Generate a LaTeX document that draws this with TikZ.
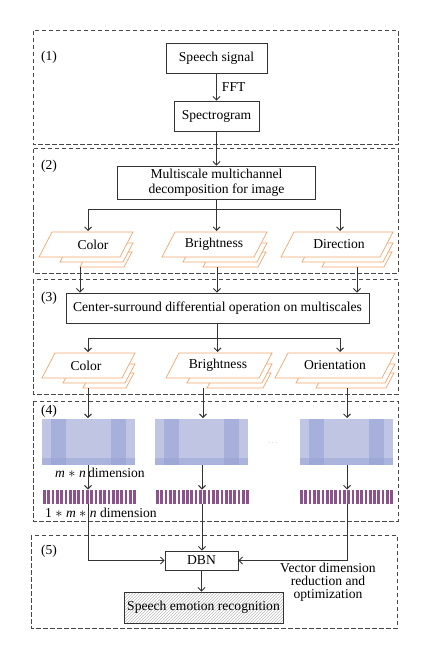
\documentclass[tikz,border=0pt]{standalone}
\usepackage{fontspec}
\setmainfont{Liberation Serif}
\usetikzlibrary{arrows.meta,patterns}
\definecolor{linec}{HTML}{333333}
\definecolor{dashc}{HTML}{484848}
\definecolor{orangec}{HTML}{F2A56A}
\definecolor{matbase}{RGB}{192,197,228}
\definecolor{matband}{RGB}{150,162,212}
\definecolor{barc}{RGB}{140,82,140}
\newcommand{\myfs}{\fontsize{13.6}{15.5}\selectfont}
\newcommand{\stk}[3]{%
 \filldraw[para] ({#1+41},{#2+35}) -- ({#1+#3+4},{#2+35}) -- ({#1+#3+12},{#2+20}) -- ({#1+49},{#2+20}) -- cycle;
 \filldraw[para] ({#1+21},{#2+30}) -- ({#1+#3+3},{#2+30}) -- ({#1+#3+13},{#2+11}) -- ({#1+31},{#2+11}) -- cycle;
 \filldraw[para] (#1,{#2+25}) -- ({#1+#3},{#2+25}) -- ({#1+#3+13},#2) -- ({#1+13},#2) -- cycle;
}
\newcommand{\matbox}[1]{%
 \fill[matbase] (#1,419) rectangle ({#1+93},465);
 \fill[matband,opacity=0.6] ({#1+9},419) rectangle ({#1+24},465);
 \fill[matband,opacity=0.6] ({#1+69},419) rectangle ({#1+84},465);
 \fill[matband,opacity=0.5] (#1,458) rectangle ({#1+93},465);
}
\newcommand{\stripebar}[1]{%
 \foreach \i in {0,...,21} {\fill[barc] ({#1+\i*4.3},490) rectangle ({#1+\i*4.3+2.7},504);}
}
\begin{document}
\begin{tikzpicture}[x=1pt,y=-1pt,
  line/.style={draw=linec, line width=0.9pt},
  arr/.style={line, -{Straight Barb[length=3.5pt,width=7pt]}},
  sect/.style={draw=dashc, line width=1pt, dash pattern=on 4.5pt off 2.5pt},
  box/.style={draw=linec, line width=0.9pt, fill=white, inner sep=0pt, align=center, font=\myfs},
  lab/.style={inner sep=0pt, font=\myfs, align=center},
  para/.style={draw=orangec, line width=0.7pt, fill=white},
]
\fill[white] (0,0) rectangle (429,660);
\useasboundingbox (0,0) rectangle (429,660);

% section frames
\draw[sect] (33,31) rectangle (398,145);
\draw[sect] (33,149) rectangle (398,273);
\draw[sect] (33,279) rectangle (398,394);
\draw[sect] (33,401) rectangle (398,521);
\draw[sect] (31,535) rectangle (397,628);
\node[lab] (l1) at (49,57) {(1)};
\node[lab] (l2) at (49,166) {(2)};
\node[lab] (l3) at (49,298) {(3)};
\node[lab] (l4) at (49,411) {(4)};
\node[lab] (l5) at (49,551) {(5)};

% section 1
\node[box, minimum width=101pt, minimum height=30pt] (speech) at (216.5,58) {Speech signal};
\node[box, minimum width=85pt, minimum height=30pt] (spectro) at (216.5,116) {Spectrogram};
\draw[arr] (speech) -- node[lab, right=5pt] (fft) {FFT} (spectro);

% section 2
\node[box, minimum width=198pt, minimum height=33pt] (multi) at (216.5,182.5) {Multiscale multichannel\\decomposition for image};
\draw[arr] (spectro) -- (multi);
\stk{39}{232}{81}
\stk{162}{232}{92}
\stk{281}{232}{99}
\node[lab] (color2) at (93,244.5) {Color};
\node[lab] (bright2) at (214,244.5) {Brightness};
\node[lab] (dir2) at (339,244.5) {Direction};
\coordinate (b2l) at (88,209);
\coordinate (b2r) at (340,209);
\coordinate (t2l) at (88,231);
\coordinate (t2m) at (216.5,231);
\coordinate (t2r) at (340,231);
\draw[line] (b2l) -- (b2r);
\draw[arr] (multi.south) -- (t2m);
\draw[arr] (b2l) -- (t2l);
\draw[arr] (b2r) -- (t2r);

% section 3
\node[box, minimum width=303pt, minimum height=30pt] (csd) at (217.5,308) {Center-surround differential operation on multiscales};
\coordinate (s2l) at (80,267);
\coordinate (s2m) at (217,267);
\coordinate (s2r) at (357,267);
\draw[arr] (s2l) -- (s2l |- csd.north);
\draw[arr] (s2m) -- (s2m |- csd.north);
\draw[arr] (s2r) -- (s2r |- csd.north);
\stk{42}{353}{80}
\stk{166}{353}{93}
\stk{275}{353}{107}
\node[lab] (color3) at (86,365.5) {Color};
\node[lab] (bright3) at (218,365.5) {Brightness};
\node[lab] (orient3) at (335,365.5) {Orientation};
\coordinate (b3l) at (88,338);
\coordinate (b3r) at (340,338);
\coordinate (t3l) at (88,352);
\coordinate (t3m) at (217.5,352);
\coordinate (t3r) at (340,352);
\draw[line] (b3l) -- (b3r);
\draw[arr] (csd.south) -- (t3m);
\draw[arr] (b3l) -- (t3l);
\draw[arr] (b3r) -- (t3r);

% section 4
\matbox{42}
\matbox{155}
\matbox{300}
\stripebar{43}
\stripebar{156}
\stripebar{300}
\node[inner sep=0pt, text=gray, font=\scriptsize] (dots) at (273,443) {$\cdots$};
\node[lab, anchor=west] (mn) at (55,473) {\textit{m} $*$ \textit{n}\,dimension};
\node[lab, anchor=west] (omn) at (45,513) {1 $*$ \textit{m} $*$ \textit{n} dimension};
\coordinate (s3l) at (88,388);
\coordinate (s3m) at (203,388);
\coordinate (s3r) at (347,388);
\coordinate (m4l) at (88,418);
\coordinate (m4m) at (203,418);
\coordinate (m4r) at (347,418);
\draw[arr] (s3l) -- (m4l);
\draw[arr] (s3m) -- (m4m);
\draw[arr] (s3r) -- (m4r);
\coordinate (mb4l) at (88,465);
\coordinate (mb4m) at (202,465);
\coordinate (mb4r) at (347,465);
\coordinate (bt4l) at (88,489.5);
\coordinate (bt4m) at (202,489.5);
\coordinate (bt4r) at (347,489.5);
\draw[arr] (mb4l) -- (bt4l);
\draw[arr] (mb4m) -- (bt4m);
\draw[arr] (mb4r) -- (bt4r);

% section 5
\node[box, minimum width=73pt, minimum height=19pt] (dbn) at (201.5,560.5) {DBN};
\node[box, minimum width=159pt, minimum height=31pt, pattern=north east lines, pattern color=black!25] (ser) at (203.5,607.5) {};
\node[lab] (sertext) at (ser.center) {Speech emotion recognition};
\node[lab] (vec) at (328,582) {Vector dimension\\[-2.5pt]reduction and\\[-2.5pt]optimization};
\coordinate (bb4l) at (88,504);
\coordinate (bb4m) at (202,504);
\coordinate (bb4r) at (347,504);
\draw[arr] (bb4l) |- (dbn.west);
\draw[arr] (bb4m) -- (bb4m |- dbn.north);
\draw[arr] (bb4r) |- (dbn.east);
\draw[arr] (dbn.south) -- (dbn.south |- ser.north);
\end{tikzpicture}
\end{document}
